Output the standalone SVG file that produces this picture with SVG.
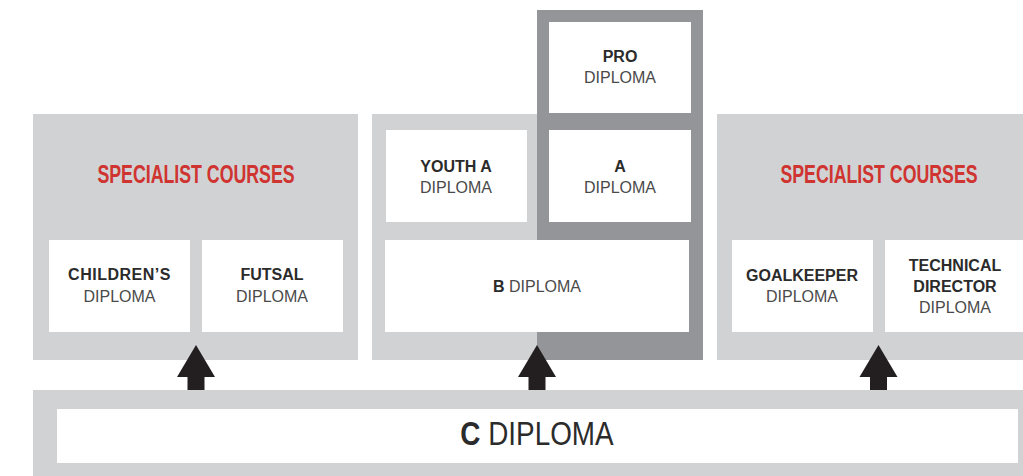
<svg xmlns="http://www.w3.org/2000/svg" width="1023" height="476" viewBox="0 0 1023 476">
<style>
.lg{fill:#d1d2d4}
.dg{fill:#939598}
.wb{fill:#ffffff}
.b{font-family:"Liberation Sans",Arial,sans-serif;font-weight:bold;font-size:16px;fill:#2b2b2b;text-anchor:middle}
.r{font-family:"Liberation Sans",Arial,sans-serif;font-size:16px;fill:#4a4a4a;text-anchor:middle}
.h{font-family:"Liberation Sans",Arial,sans-serif;font-weight:bold;font-size:25px;fill:#cf3430;text-anchor:middle}
.arr{fill:#231f20}
</style>
<rect width="1023" height="476" fill="#ffffff"/>
<g id="panel-left">
<rect class="lg" x="33" y="114" width="325" height="246"/>
<text class="h" transform="translate(196,183) scale(0.71,1)" x="0" y="0">SPECIALIST COURSES</text>
</g>
<g id="node-childrens">
<rect class="wb" x="49" y="240" width="141" height="92"/>
<text class="b" x="119.5" y="280" letter-spacing="0.5">CHILDREN’S</text>
<text class="r" x="119.5" y="302">DIPLOMA</text>
</g>
<g id="node-futsal">
<rect class="wb" x="202" y="240" width="141" height="92"/>
<text class="b" x="272" y="280">FUTSAL</text>
<text class="r" x="272" y="302">DIPLOMA</text>
</g>
<g id="panel-middle">
<rect class="lg" x="372" y="114" width="165" height="246"/>
<rect class="dg" x="537" y="10" width="166" height="350"/>
</g>
<g id="node-pro">
<rect class="wb" x="549" y="22" width="142" height="91"/>
<text class="b" x="620" y="62">PRO</text>
<text class="r" x="620" y="83">DIPLOMA</text>
</g>
<g id="node-youtha">
<rect class="wb" x="386" y="130" width="141" height="92"/>
<text class="b" x="456" y="172">YOUTH A</text>
<text class="r" x="456" y="193">DIPLOMA</text>
</g>
<g id="node-a">
<rect class="wb" x="549" y="130" width="142" height="92"/>
<text class="b" x="620" y="172">A</text>
<text class="r" x="620" y="193">DIPLOMA</text>
</g>
<g id="node-b">
<rect class="wb" x="385" y="240" width="304" height="92"/>
<text class="r" x="537" y="292"><tspan font-weight="bold" fill="#2b2b2b">B</tspan> DIPLOMA</text>
</g>
<g id="panel-right">
<rect class="lg" x="717" y="114" width="306" height="246"/>
<text class="h" transform="translate(879,183) scale(0.71,1)" x="0" y="0">SPECIALIST COURSES</text>
</g>
<g id="node-goalkeeper">
<rect class="wb" x="732" y="240" width="141" height="92"/>
<text class="b" x="802" y="281">GOALKEEPER</text>
<text class="r" x="802" y="302">DIPLOMA</text>
</g>
<g id="node-technical">
<rect class="wb" x="885" y="240" width="138" height="92"/>
<text class="b" x="955" y="271">TECHNICAL</text>
<text class="b" x="955" y="292">DIRECTOR</text>
<text class="r" x="955" y="313">DIPLOMA</text>
</g>
<g id="node-c">
<rect class="lg" x="33" y="390" width="990" height="86"/>
<rect class="wb" x="57" y="409" width="961" height="54"/>
<text class="r" transform="translate(537,445) scale(0.82,1)" x="0" y="0" style="font-size:34px;fill:#2b2b2b"><tspan font-weight="bold">C</tspan> DIPLOMA</text>
</g>
<g id="connectors">
<polygon class="arr" points="196,345 215,377 204.5,377 204.5,390 187.5,390 187.5,377 177,377"/>
<polygon class="arr" points="537,345 556,377 545.5,377 545.5,390 528.5,390 528.5,377 518,377"/>
<polygon class="arr" points="878.5,345 897.5,377 887,377 887,390 870,390 870,377 859.5,377"/>
</g>
</svg>
